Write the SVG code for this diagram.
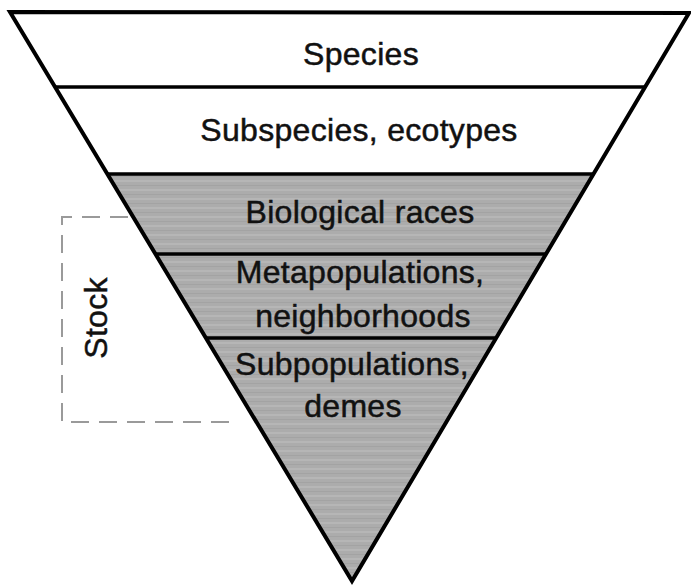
<svg xmlns="http://www.w3.org/2000/svg" width="691" height="585" viewBox="0 0 691 585">
  <defs>
    <pattern id="streaks" patternUnits="userSpaceOnUse" width="40" height="9">
      <rect width="40" height="9" fill="#acacac"/>
      <rect y="0" width="40" height="2" fill="#b6b6b6"/>
      <rect y="5" width="40" height="1" fill="#a3a3a3"/>
    </pattern>
  </defs>
  <style>
    .lbl { font-family: "Liberation Sans", Arial, sans-serif; font-size: 32px; fill: #111; stroke: #111; stroke-width: 0.5; text-anchor: middle; letter-spacing: 0.3px; }
    .edge { fill: none; stroke: #000; stroke-width: 4; stroke-linejoin: miter; }
    .div { stroke: #000; stroke-width: 3.5; }
    .dash { fill: none; stroke: #9a9a9a; stroke-width: 2; stroke-dasharray: 18 10; }
  </style>
  <rect width="691" height="585" fill="#fff"/>
  <polygon points="107,174 593,174 352,581" fill="url(#streaks)"/>
  <g id="tier-species">
    <text class="lbl" x="361" y="65">Species</text>
  </g>
  <g id="tier-subspecies">
    <line class="div" x1="55" y1="87" x2="645" y2="87"/>
    <text class="lbl" x="359" y="141">Subspecies, ecotypes</text>
  </g>
  <g id="tier-biological-races">
    <line class="div" x1="107" y1="174" x2="593" y2="174"/>
    <text class="lbl" x="360" y="223">Biological races</text>
  </g>
  <g id="tier-metapopulations">
    <line class="div" x1="156" y1="254" x2="545" y2="254"/>
    <text class="lbl" x="360" y="283">Metapopulations,</text>
    <text class="lbl" x="363" y="327">neighborhoods</text>
  </g>
  <g id="tier-subpopulations">
    <line class="div" x1="206" y1="338" x2="495" y2="338"/>
    <text class="lbl" x="352" y="375">Subpopulations,</text>
    <text class="lbl" x="353" y="417">demes</text>
  </g>
  <g id="outline">
    <polygon class="edge" points="10,12 689,13 352,581"/>
  </g>
  <g id="stock">
    <polyline class="dash" points="128,217 62,217 62,422 232,422"/>
    <text class="lbl" transform="translate(107,318) rotate(-90)" x="0" y="0">Stock</text>
  </g>
</svg>
